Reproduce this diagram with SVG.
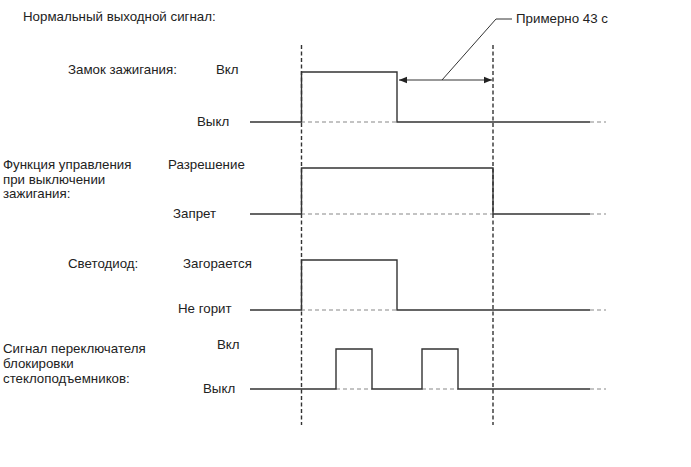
<svg xmlns="http://www.w3.org/2000/svg" width="691" height="467" viewBox="0 0 691 467">
<style>
text{font-family:"Liberation Sans",Arial,sans-serif;font-size:13.3px;fill:#222}
.sig{fill:none;stroke:#333;stroke-width:1.4}
.base{fill:none;stroke:#888;stroke-width:1.2;stroke-dasharray:4,3}
.vl{fill:none;stroke:#333;stroke-width:1.4;stroke-dasharray:4,2.5}
.dim{fill:none;stroke:#333;stroke-width:1}
</style>
<defs>
<marker id="ah" viewBox="0 0 10 10" refX="10" refY="5" markerWidth="8" markerHeight="8" markerUnits="userSpaceOnUse" orient="auto-start-reverse">
<path d="M0,1 L10,5 L0,9 Z" fill="#222"/>
</marker>
</defs>
<rect width="691" height="467" fill="#fff"/>
<text x="23" y="21">Нормальный выходной сигнал:</text>
<g id="connectors">
<line class="vl" x1="301.5" y1="45" x2="301.5" y2="425"/>
<line class="vl" x1="493" y1="45" x2="493" y2="425"/>
<line class="dim" x1="399" y1="80" x2="492" y2="80" marker-start="url(#ah)" marker-end="url(#ah)"/>
<polyline class="dim" points="442,80 496,19 512,19"/>
</g>
<g id="label-time"><text x="516" y="23">Примерно 43 с</text></g>
<g id="ignition">
<text x="68" y="74">Замок зажигания:</text>
<text x="216" y="74">Вкл</text>
<text x="197" y="126">Выкл</text>
<line class="base" x1="301" y1="122" x2="397" y2="122"/>
<line class="base" x1="590" y1="122" x2="606" y2="122"/>
<polyline class="sig" points="250,122 301.5,122 301.5,72 397,72 397,122 590,122"/>
</g>
<g id="function">
<text x="3" y="169">Функция управления</text>
<text x="3" y="183.5">при выключении</text>
<text x="3" y="198">зажигания:</text>
<text x="168" y="169">Разрешение</text>
<text x="173" y="218">Запрет</text>
<line class="base" x1="301" y1="214" x2="493" y2="214"/>
<line class="base" x1="590" y1="214" x2="606" y2="214"/>
<polyline class="sig" points="250,214 301.5,214 301.5,168 493,168 493,214 590,214"/>
</g>
<g id="led">
<text x="68" y="268">Светодиод:</text>
<text x="183" y="268">Загорается</text>
<text x="178" y="313">Не горит</text>
<line class="base" x1="301" y1="310" x2="397" y2="310"/>
<line class="base" x1="590" y1="310" x2="606" y2="310"/>
<polyline class="sig" points="250,310 301.5,310 301.5,260 397,260 397,310 590,310"/>
</g>
<g id="window-lock">
<text x="3" y="353">Сигнал переключателя</text>
<text x="3" y="368">блокировки</text>
<text x="3" y="383">стеклоподъемников:</text>
<text x="217" y="349">Вкл</text>
<text x="203" y="393">Выкл</text>
<line class="base" x1="336" y1="389" x2="372" y2="389"/>
<line class="base" x1="422" y1="389" x2="458" y2="389"/>
<line class="base" x1="590" y1="389" x2="606" y2="389"/>
<polyline class="sig" points="250,389 336,389 336,349 372,349 372,389 422,389 422,349 458,349 458,389 590,389"/>
</g>
</svg>
